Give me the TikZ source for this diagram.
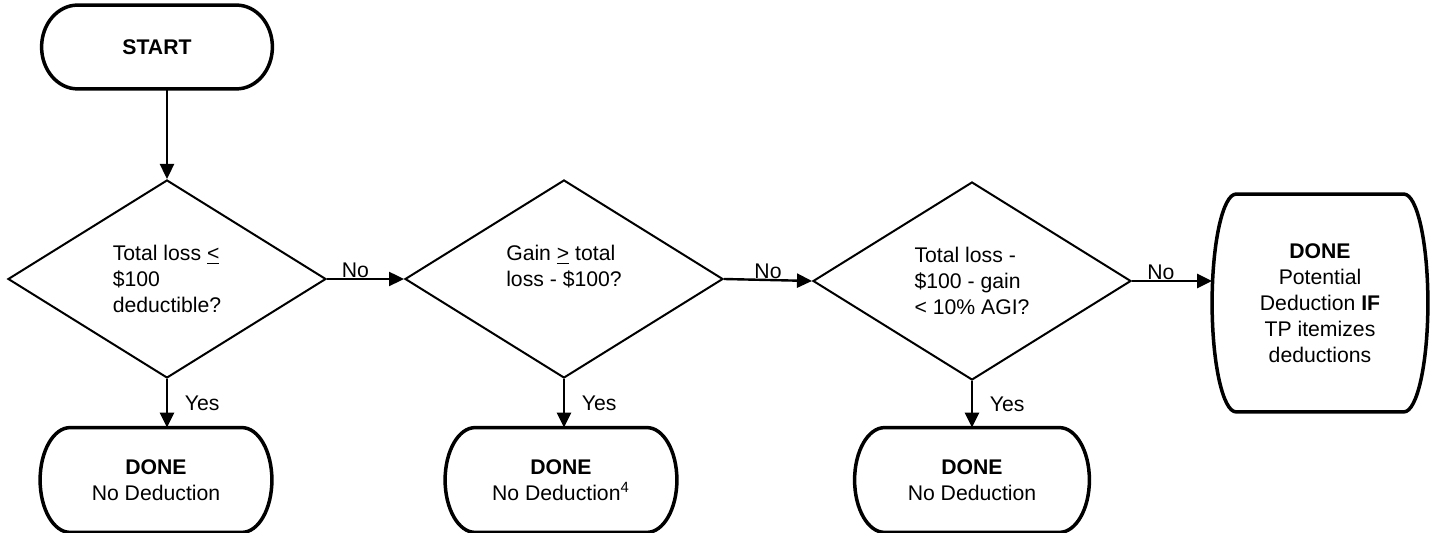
\documentclass[tikz,border=0pt]{standalone}
\usepackage{fontspec}
\setmainfont{Liberation Sans}
\usetikzlibrary{shapes.geometric,arrows.meta,calc}

\begin{document}
\begin{tikzpicture}[x=0.5pt,y=-0.5pt,>={Triangle[length=7.5pt,width=7pt]},
                    font=\fontsize{10.6}{13}\selectfont]
  \tikzstyle{term}=[inner sep=0pt,align=center]
  \tikzstyle{test}=[diamond,draw=black,line width=1pt,inner sep=0pt,align=left,
                    minimum width=159pt,minimum height=99pt]
  \tikzstyle{flow}=[->,line width=1.2pt]
  \tikzstyle{rim}=[line width=1.75pt]
  \tikzstyle{no}=[above,inner sep=0pt]
  \tikzstyle{yes}=[right,xshift=5pt]

  \useasboundingbox (0,0) rectangle (1436,533);

  \node[term,minimum width=115pt,minimum height=41.5pt] (start) at (157,47) {\textbf{START}};
  \node[test] (q1) at (167,279) {Total loss \underline{<}\\\$100\\deductible?};
  \node[test] (q2) at (564,279) {Gain \underline{>} total\\loss - \$100?\\\mbox{}};
  \node[test] (q3) at (972,281) {Total loss -\\\$100 - gain\\< 10\% AGI?};

  \node[term,minimum width=115.5pt,minimum height=52pt] (done1) at (156,480)
       {\textbf{DONE}\\No Deduction};
  \node[term,minimum width=115.5pt,minimum height=52pt] (done2) at (561,480)
       {\textbf{DONE}\\No Deduction\textsuperscript{4}};
  \node[term,minimum width=117pt,minimum height=52pt] (done3) at (972,480)
       {\textbf{DONE}\\No Deduction};
  \node[term,minimum width=107.5pt,minimum height=108.5pt] (done4) at (1320,303)
       {\textbf{DONE}\\Potential\\Deduction \textbf{IF}\\TP itemizes\\deductions};

  % terminal outlines
  \foreach \t/\a in {start/18,done1/15,done2/15,done3/15,done4/12}
    \draw[rim] let \p1=(\t.north east), \p2=(\t.south west), \n1={(\y1-\y2)/2} in
      (\x2+\a pt,\y1) -- (\x1-\a pt,\y1)
      arc[start angle=90,end angle=-90,x radius=\a pt,y radius=\n1]
      -- (\x2+\a pt,\y2)
      arc[start angle=270,end angle=90,x radius=\a pt,y radius=\n1] -- cycle;

  \draw[flow] (q1.north |- start.south) -- (q1.north);
  \draw[flow] (q1.east) -- node[no,pos=0.37] {No} (q2.west);
  \draw[flow] (q2.east) -- node[no,pos=0.5] {No} (q3.west);
  \draw[flow] (q3.east) -- node[no,pos=0.36] {No} (q3.east -| done4.west);

  \draw[flow] (q1.south) -- node[yes] {Yes} (q1.south |- done1.north);
  \draw[flow] (q2.south) -- node[yes] {Yes} (q2.south |- done2.north);
  \draw[flow] (q3.south) -- node[yes] {Yes} (q3.south |- done3.north);
\end{tikzpicture}
\end{document}
